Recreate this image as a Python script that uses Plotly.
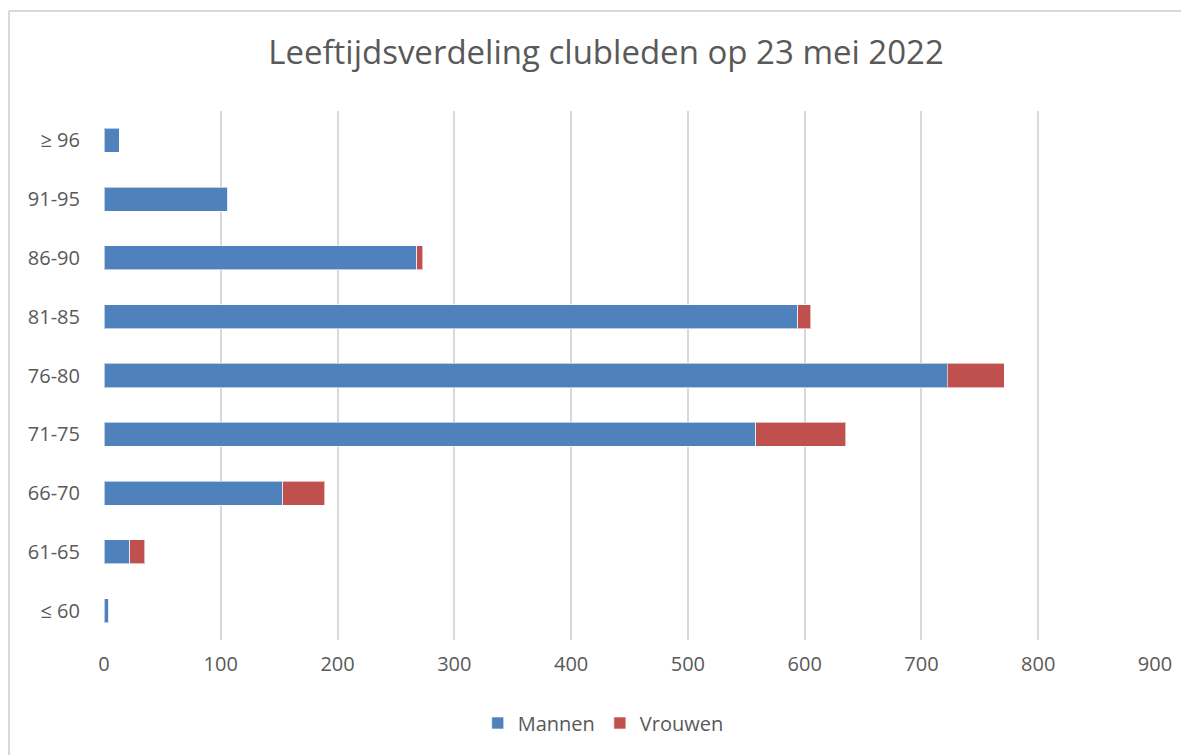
import plotly.graph_objects as go

categories = ["≤ 60", "61-65", "66-70", "71-75", "76-80", "81-85", "86-90", "91-95", "≥ 96"]
mannen = [4, 22, 153, 558, 722, 594, 268, 106, 13]
vrouwen = [0, 13, 36, 77, 49, 11, 5, 0, 0]
tick_vals = [0, 100, 200, 300, 400, 500, 600, 700, 800, 900]

# page has an 8px body margin; figure is sized to fill the rest of the window
W, H = 1181, 747
L, R, T, B = 96, 34, 103, 115
PW, PH = W - L - R, H - T - B
FONT = "Open Sans"
GREY = "#595959"
BORDER = "#d9d9d9"

fig = go.Figure()
fig.add_trace(go.Bar(y=categories, x=mannen, name="Mannen", orientation="h",
                     marker=dict(color="#4F81BD", line=dict(color="rgba(255,255,255,0.6)", width=1))))
fig.add_trace(go.Bar(y=categories, x=vrouwen, name="Vrouwen", orientation="h",
                     marker=dict(color="#C0504D", line=dict(color="rgba(255,255,255,0.6)", width=1))))

fig.update_layout(
    width=W, height=H,
    barmode="stack", bargap=0.59,
    paper_bgcolor="white", plot_bgcolor="white",
    margin=dict(l=L, r=R, t=T, b=B),
    font=dict(family=FONT, color=GREY, size=20),
    title=dict(text="Leeftijdsverdeling clubleden op 23 mei 2022", x=598 / W, xanchor="center",
               y=1 - 44 / H, yanchor="middle", font=dict(family=FONT, size=33, color=GREY)),
    xaxis=dict(range=[0, 900], tickvals=tick_vals, showgrid=True, gridcolor=BORDER, gridwidth=2,
               zeroline=False, showline=False, ticks="", ticklabelstandoff=10,
               tickfont=dict(size=20, color=GREY)),
    yaxis=dict(showgrid=False, showline=False, ticks="", ticklabelstandoff=23,
               tickfont=dict(size=20, color=GREY)),
    legend=dict(orientation="h", x=0.475, xanchor="center", y=1 - (715 - T) / PH, yanchor="middle",
                font=dict(size=20, color=GREY), traceorder="normal", itemwidth=30),
    shapes=[
        dict(type="line", xref="paper", yref="paper", x0=-(L - 1) / PW, x1=(W - L + 10) / PW,
             y0=1 + (T - 3) / PH, y1=1 + (T - 3) / PH, line=dict(color=BORDER, width=2)),
        dict(type="line", xref="paper", yref="paper", x0=-(L - 1) / PW, x1=-(L - 1) / PW,
             y0=1 + (T - 3) / PH, y1=-(B + 10) / PH, line=dict(color=BORDER, width=2)),
    ],
)

fig.write_html("out.html")
